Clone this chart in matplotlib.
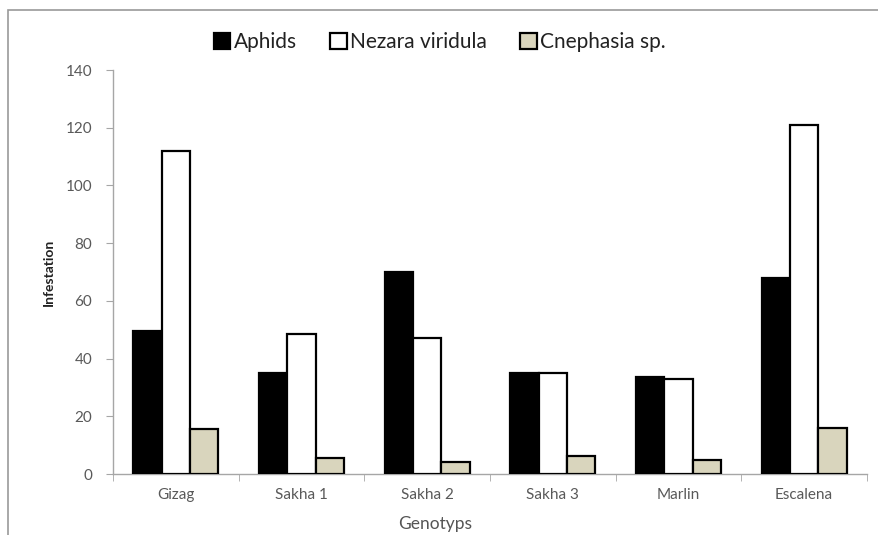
import numpy as np
import matplotlib
matplotlib.use('Agg')
import matplotlib.pyplot as plt
from matplotlib import patches

plt.rcParams['font.family'] = ['Lato', 'DejaVu Sans']

genotypes = ['Gizag', 'Sakha 1', 'Sakha 2', 'Sakha 3', 'Marlin', 'Escalena']
aphids = [49.5, 34.9, 70.1, 35.1, 33.5, 67.8]
nezara = [112, 48.7, 47, 34.9, 33, 121]
cnephasia = [15.5, 5.7, 4.3, 6.2, 4.9, 15.8]
series_names = ['Aphids', 'Nezara viridula', 'Cnephasia sp.']
series_colors = ['black', 'white', '#d9d5bd']
y_ticks = [0, 20, 40, 60, 80, 100, 120, 140]

fig = plt.figure(figsize=(8.79, 5.35), dpi=100)
ax = fig.add_axes([0.1286, 0.114, 0.8577, 0.755])

# outer chart border (Excel style)
fig.patches.append(patches.Rectangle((8 / 879, -0.1), 1.1, 1.1 - 10 / 535,
                                     transform=fig.transFigure, fill=False,
                                     edgecolor='#9a9a9a', linewidth=1.2))

x = np.arange(len(genotypes))
w = 0.226
for i, (vals, name, col) in enumerate(zip([aphids, nezara, cnephasia], series_names, series_colors)):
    ax.bar(x + (i - 1) * w, vals, width=w, color=col, edgecolor='black',
           linewidth=1.6, label=name, zorder=3)

ax.set_xlim(-0.5, len(genotypes) - 0.5)
ax.set_ylim(0, 140)
ax.set_yticks(y_ticks)
ax.set_xticks(x)
ax.set_xticklabels(genotypes)
ax.set_xticks(np.arange(-0.5, len(genotypes), 1), minor=True)
ax.tick_params(axis='x', which='major', length=0, pad=10, labelsize=11, colors='#595959')
ax.tick_params(axis='x', which='minor', length=5, color='#a6a6a6', direction='out')
ax.tick_params(axis='y', length=5, color='#a6a6a6', labelsize=11, colors='#595959', pad=10)
for lab in ax.get_yticklabels():
    lab.set_color('#595959')

for s in ['top', 'right']:
    ax.spines[s].set_visible(False)
for s in ['left', 'bottom']:
    ax.spines[s].set_color('#a6a6a6')
    ax.spines[s].set_linewidth(1)

ax.set_ylabel('Infestation', fontsize=10, fontweight='bold', color='#222222')
ax.yaxis.set_label_coords(-0.077, 0.5)
ax.set_xlabel('Genotyps', fontsize=12.5, color='#555555')
ax.xaxis.set_label_coords(0.427, -0.105)

leg = fig.legend(loc='center', bbox_to_anchor=(0.5, 0.921), ncol=3, frameon=False,
                 fontsize=15, handlelength=0.8, handleheight=0.8, handletextpad=0.15,
                 columnspacing=1.6)
for t in leg.get_texts():
    t.set_color('#222222')

fig.savefig('out.png', dpi=100)
